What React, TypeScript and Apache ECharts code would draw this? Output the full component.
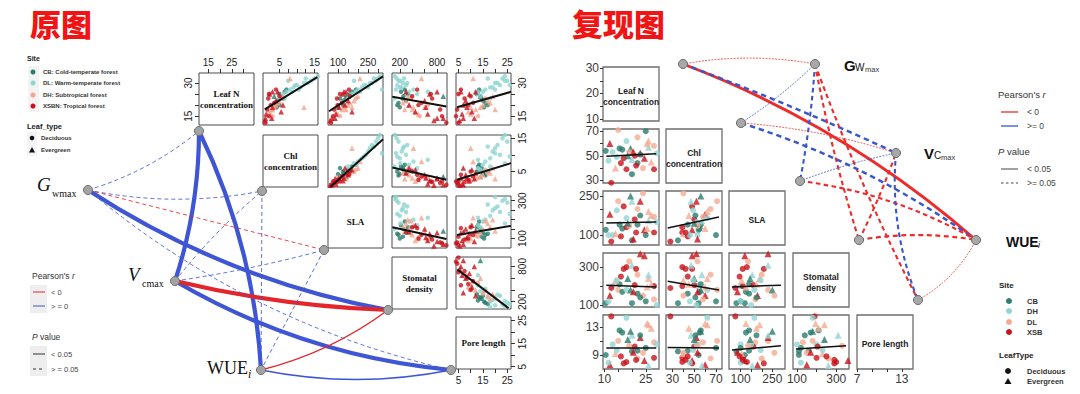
import React, { useEffect, useRef } from "react";
import * as echarts from "echarts";

// ================= LEFT PANEL (原图) : observations =================
const leftSite = [
  "CB","CB","CB","CB","CB","CB","CB","CB","CB","CB",
  "DL","DL","DL","DL","DL","DL","DL","DL","DL","DL","DL","DL","DL","DL","DL","DL","DL","DL",
  "DH","DH","DH","DH","DH","DH","DH","DH","DH","DH","DH","DH","DH","DH",
  "XSBN","XSBN","XSBN","XSBN","XSBN","XSBN","XSBN","XSBN","XSBN","XSBN",
  "XSBN","XSBN","XSBN","XSBN","XSBN","XSBN","XSBN","XSBN","XSBN","XSBN",
];
const leftType = [
  "D","D","D","D","D","D","D","E","D","D",
  "D","D","D","D","D","D","D","D","D","D","D","D","D","D","D","D","D","D",
  "E","E","E","E","E","E","E","D","E","E","D","E","E","D",
  "E","D","E","D","E","D","E","D","E","D","E","D","E","D","E","D","E","D","E","E",
];
const leftN = [
  24,22,26,21,25,23,19,24,27,20,
  30,28,32,26,29,31,27,33,25,28,30,24,29,32,26,27,31,23,
  18,20,16,22,19,17,21,23,19,32,15,24,18,20,
  26,25,22,18,14,20,16,24,13,21,26,15,19,23,17,12,25,27,14,20,
];
const leftChl = [
  5.5,4.5,6.5,3.8,5.0,6.0,4.2,3.5,7.0,5.0,
  12,9,15,7,10,14,8,16,6,11,13,5.5,9.5,12.5,8.5,10.5,7.5,6.5,
  3,4,2.5,5,3.5,2,4.5,5.5,12,8,3,6,2.8,3.2,
  3,2,4,1.5,1,2.5,1.2,5,0.8,3.5,4.5,2,3,1.8,5.5,1,2.2,4,2.8,6,
];
const leftSLA = [
  150,130,170,120,160,110,100,140,190,125,
  260,220,300,190,240,290,200,310,170,250,270,160,230,280,210,320,180,150,
  120,150,100,180,130,90,160,190,170,210,110,200,140,95,
  130,110,150,80,70,100,90,160,60,120,140,75,105,95,170,65,125,155,85,135,
];
const leftSD = [
  260,300,220,180,330,250,200,900,280,160,
  250,200,150,350,300,180,420,120,480,230,320,380,160,270,650,140,210,110,
  400,350,500,300,600,450,250,380,420,550,520,330,280,650,
  800,700,600,850,900,500,650,400,750,550,300,880,620,720,450,950,680,480,800,350,
];
const leftPL = [
  14,15,13,16,12.5,14.5,15.5,14,13.5,17,
  20,18,23,15,22,25,16,24,13,19,21,14,26,17,13,20,24,18,
  12,15,10,17,14,9,18,16,10,11,13,19,20,8,
  6,5,8,4.5,7,9,6.5,10,5.5,11,12,4,8.5,7.5,10.5,5,9.5,6,11.5,7,
];
const leftVarLabels = ["Leaf N\nconcentration", "Chl\nconcentration", "SLA", "Stomatal\ndensity", "Pore length"];
const leftRange = [[11, 34.5], [0.3, 16], [50, 325], [75, 960], [4, 26.5]];
const leftXTicks = [[15,20,25,30],[5,7.5,10,12.5,15],[100,150,200,250,300],[200,400,600,800],[5,10,15,20,25]];
const leftXLabels = [[15,25],[5,15],[100,250],[200,800],[5,15,25]];
const leftYTicks = [[15,20,25,30],[5,10,15],[100,150,200,250,300],[200,400,600,800],[5,10,15,20,25]];
const leftYLabels = [[15,30],[5,15],[100,300],[200,800],[5,15,25]];
// fitted lines (row = y variable, col = x variable)
const leftFitCell = [[0,1],[0,2],[0,3],[0,4],[1,2],[1,3],[1,4],[2,3],[2,4],[3,4]];
const leftFitX = [[0.8,15.8],[55,325],[80,950],[4.4,26.5],[62,325],[80,950],[4.4,26.5],[80,950],[4.4,26.5],[4.5,25.5]];
const leftFitY = [[18.1,32.6],[17.2,33],[23.8,19.4],[19,26],[0.3,14.7],[6.2,2.5],[2.5,7.5],[160,98],[119,167],[750,90]];
// network
const leftNodeNames = ["Leaf N","Chl","SLA","SD","PL","Gwmax","Vcmax","WUEi"];
const leftEdgeFrom = ["Leaf N","Leaf N","Gwmax","Vcmax","Vcmax","WUEi","WUEi","Gwmax","Gwmax","Gwmax","Gwmax","Vcmax","Vcmax","Chl","SLA"];
const leftEdgeTo   = ["Vcmax","WUEi","SD","PL","SD","SD","PL","Leaf N","Chl","SLA","PL","Chl","SLA","WUEi","WUEi"];
const leftEdgeR = [0.52,0.55,0.5,0.5,-0.55,-0.22,0.2,0.1,0.1,-0.1,0.08,0.1,0.08,0.1,0.1];
const leftEdgeP = [0.001,0.001,0.001,0.001,0.001,0.02,0.03,0.3,0.4,0.3,0.5,0.4,0.5,0.3,0.4];

// ================= RIGHT PANEL (复现图) : observations =================
const rightSite = ["CB","XSB","DH","DL","CB","CB","CB","DL","DL","DL","XSB","XSB","CB","XSB","XSB","XSB","CB","DL","DH","DH","XSB","DH","CB","DL","XSB","DH","DL","XSB","CB","DH","DL","XSB","CB","DL","XSB","DH"];
const rightType = ["D","E","D","D","D","D","D","D","E","D","D","D","D","D","E","D","D","E","D","D","D","E","E","D","E","E","E","D","D","D","D","E","E","E","D","D"];
const rightN = [10.5,12,13,15,15.5,16.5,25,22,26,28,12.5,18,20,28,23,21,22,14,18,29,17,20,19.5,24,24.5,26,27,16,23,11.5,19,20.5,18.5,25.5,21.5,14.5];
const rightChl = [54,60,53,71,56,55,70,65,62,58,28,39,35,39,52,50,44,40,62,52,48,47,56,40,48,57,45,44,51,46,53,53,50,60,42,49];
const rightSLA = [120,180,100,230,140,125,100,200,190,170,75,130,80,110,230,160,140,105,165,150,210,230,250,260,120,155,175,95,175,100,135,85,145,125,110,195];
const rightSD = [110,150,200,180,210,170,120,260,240,130,190,300,110,200,370,205,160,230,180,100,290,310,180,150,360,260,210,250,140,120,330,170,240,195,290,230];
const rightPL = [9,7.6,10.5,11,12.5,12.2,10,8.5,13.3,10.8,14.5,8,9.5,8.6,11.5,10.2,9.6,9.2,14.3,10.5,7.8,11.8,12.4,9.3,8.2,7.5,12.8,8.8,11.8,7.9,10.3,9.4,11.2,13.5,8.3,9.7];
const rightVarLabels = ["Leaf N\nconcentration", "Chl\nconcentration", "SLA", "Stomatal\ndensity", "Pore length"];
const rightXRange = [[9.5,29.8],[24,75.5],[45,310],[80,365],[7,14.5]];
const rightYRange = [[9.2,30.4],[27.8,71.8],[62,269],[90,374],[7,14.7]];
const rightXTicks = [[10,15,20,25],[30,40,50,60,70],[100,150,200,250],[100,200,300],[7,9,11,13]];
const rightXLabels = [[10,25],[30,50,70],[100,250],[100,300],[7,13]];
const rightYTicks = [[10,15,20,25,30],[30,40,50,60,70],[100,150,200,250],[100,200,300],[9,11,13]];
const rightYLabels = [[10,20,30],[30,50,70],[100,250],[100,300],[9,13]];
const rightFitCell = [[1,0],[2,0],[2,1],[3,0],[3,1],[3,2],[4,0],[4,1],[4,2],[4,3]];
const rightFitX = [[10.7,28.8],[10.7,28.8],[25.5,72.7],[10.7,28.8],[25.5,72.7],[59,291],[10.7,28.8],[25.5,72.7],[59,291],[95,350]];
const rightFitY = [[49.5,51.7],[146,150],[127,169],[205,195],[226,179],[195,205],[10,10],[10.05,10],[9.7,10.3],[9.85,10.3]];
const rightNodeNames = ["Leaf N","Chl","SLA","SD","PL","Gwmax","Vcmax","WUEi"];
const rightEdgeFrom = ["Leaf N","Leaf N","Leaf N","Gwmax","Gwmax","Gwmax","Gwmax","Chl","Chl","SLA","SLA","SD","SD","Vcmax","PL"];
const rightEdgeTo   = ["WUEi","Vcmax","Gwmax","Chl","SLA","SD","PL","WUEi","Vcmax","Vcmax","WUEi","WUEi","Vcmax","PL","WUEi"];
const rightEdgeR = [-0.42,0.35,-0.12,0.12,0.3,-0.3,-0.3,0.35,-0.12,0.12,-0.3,-0.32,-0.3,0.3,-0.12];
const rightEdgeP = [0.01,0.06,0.5,0.5,0.1,0.1,0.1,0.06,0.5,0.5,0.1,0.08,0.1,0.1,0.5];

// ================= layout / style (not data) =================
const LEFT_COLORS: Record<string, string> = { CB: "#2b7c6d", DL: "#8ed5d0", DH: "#f2a48d", XSBN: "#c8121c" };
const RIGHT_COLORS: Record<string, string> = { CB: "#2b7c6d", DH: "#92d5d2", DL: "#f3ab92", XSB: "#c8121c" };
const LCX = [199, 263, 328, 392, 456], LCW = 55, LRY = [73, 135, 196, 257, 317], LRH = 52;
const RCX = [603, 666, 729, 793, 857], RCW = 56, RRY = [67, 129, 191, 253, 315], RRH = 54;
const leftNodePos = [[199,131],[262,191],[324,250],[388,310],[451,370],[88,190],[175,281],[261,370]];
const rightNodePos = [[683,64],[741,123],[800,181],[859,240],[918,300],[815,64],[896,153],[976,240]];
const leftCurve = [0.08,0.1,-0.1,-0.11,-0.05,-0.1,-0.1,-0.1,-0.1,0,-0.12,0.05,-0.03,0,0];
const rightCurve = [0.09,0.02,0.09,0.05,0.03,-0.03,-0.03,0.08,0.06,0.04,0.1,0.085,-0.03,-0.12,-0.15];

const SANS = "Liberation Sans";
const SERIF = "Liberation Serif";

function buildOption() {
  const grid: any[] = [], xAxis: any[] = [], yAxis: any[] = [], series: any[] = [], graphic: any[] = [];
  const addCell = (l: number, t: number, w: number, h: number, bc: string, bw: number, xa: any, ya: any) => {
    const i = grid.length;
    grid.push({ left: l, top: t, width: w, height: h, show: true, borderColor: bc, borderWidth: bw, backgroundColor: "rgba(0,0,0,0)" });
    xAxis.push({ gridIndex: i, ...xa });
    yAxis.push({ gridIndex: i, ...ya });
    return i;
  };
  const mkAxis = (range: number[], show: boolean, position: string, ticks: number[], labels: number[], o: any) => ({
    type: "value", min: range[0], max: range[1], show, position,
    axisLine: { show: false, onZero: false }, splitLine: { show: false },
    axisTick: { show: true, length: o.tick, customValues: ticks, lineStyle: { color: "#333", width: 1 } },
    axisLabel: { show: true, customValues: labels, margin: o.margin, fontSize: o.fs, fontFamily: SANS, color: o.color, rotate: o.rotate || 0 },
  });
  const text = (x: number, y: number, t: string, font: string, fill = "#222", align = "left", extra: any = {}) =>
    graphic.push({ type: "text", x, y, z: 20, style: { text: t, font, fill, textAlign: align, textVerticalAlign: "middle", ...extra } });

  // ---------- LEFT MATRIX ----------
  const leftVars = [leftN, leftChl, leftSLA, leftSD, leftPL];
  for (let r = 0; r < 5; r++) {
    for (let c = r; c < 5; c++) {
      const showX = r === 0 || (r === 4 && c === 4);
      const showY = c === 0 || c === 4;
      const idx = addCell(LCX[c], LRY[r], LCW, LRH, "#4a4a4a", 1,
        mkAxis(leftRange[c], showX, r === 0 ? "top" : "bottom", leftXTicks[c], leftXLabels[c], { tick: 4, margin: 6, fs: 10, color: "#222" }),
        mkAxis(leftRange[r], showY, c === 0 ? "left" : "right", leftYTicks[r], leftYLabels[r], { tick: 4, margin: 6, fs: 10, color: "#222", rotate: 90 }));
      if (r === c) {
        text(LCX[c] + LCW / 2, LRY[r] + LRH / 2, leftVarLabels[r], `bold 9px "${SERIF}"`, "#111", "center", { lineHeight: 11 });
      } else {
        const data = leftSite.map((s, k) => ({
          value: [leftVars[c][k], leftVars[r][k]],
          symbol: leftType[k] === "E" ? "triangle" : "circle",
          symbolSize: leftType[k] === "E" ? 5.5 : 4.5,
          itemStyle: { color: LEFT_COLORS[s] },
        }));
        series.push({ type: "scatter", xAxisIndex: idx, yAxisIndex: idx, data, silent: true, z: 2 });
      }
    }
  }
  leftFitCell.forEach(([r, c], k) => {
    const idx = grid.findIndex((g) => g.left === LCX[c] && g.top === LRY[r]);
    series.push({ type: "line", xAxisIndex: idx, yAxisIndex: idx, data: [[leftFitX[k][0], leftFitY[k][0]], [leftFitX[k][1], leftFitY[k][1]]],
      showSymbol: false, silent: true, z: 3, lineStyle: { color: "#111", width: 2 } });
  });

  // ---------- RIGHT MATRIX ----------
  const rightVars = [rightN, rightChl, rightSLA, rightSD, rightPL];
  const rightCells: any = {};
  for (let r = 0; r < 5; r++) {
    for (let c = 0; c <= r; c++) {
      const idx = addCell(RCX[c], RRY[r], RCW, RRH, "#6e6e6e", 1.3,
        mkAxis(rightXRange[c], r === 4, "bottom", rightXTicks[c], rightXLabels[c], { tick: 3, margin: 4, fs: 12, color: "#3a3a3a" }),
        mkAxis(rightYRange[r], c === 0, "left", rightYTicks[r], rightYLabels[r], { tick: 3, margin: 4, fs: 12, color: "#3a3a3a" }));
      rightCells[r + "-" + c] = idx;
      if (r === c) {
        text(RCX[c] + RCW / 2, RRY[r] + RRH / 2 + 2, rightVarLabels[r], `bold 8.5px "${SANS}"`, "#222", "center", { lineHeight: 11 });
      } else {
        const data = rightSite.map((s, k) => ({
          value: [rightVars[c][k], rightVars[r][k]],
          symbol: rightType[k] === "E" ? "triangle" : "circle",
          symbolSize: rightType[k] === "E" ? 7 : 6,
          itemStyle: { color: RIGHT_COLORS[s] },
        }));
        series.push({ type: "scatter", xAxisIndex: idx, yAxisIndex: idx, data, silent: true, z: 2 });
      }
    }
  }
  rightFitCell.forEach(([r, c], k) => {
    const idx = rightCells[r + "-" + c];
    series.push({ type: "line", xAxisIndex: idx, yAxisIndex: idx, data: [[rightFitX[k][0], rightFitY[k][0]], [rightFitX[k][1], rightFitY[k][1]]],
      showSymbol: false, silent: true, z: 3, lineStyle: { color: "#111", width: 1.5 } });
  });

  // ---------- NETWORKS ----------
  const net = grid.length;
  grid.push({ left: 0, top: 0, width: 1080, height: 394, show: false });
  xAxis.push({ gridIndex: net, type: "value", min: 0, max: 1080, show: false });
  yAxis.push({ gridIndex: net, type: "value", min: 0, max: 394, inverse: true, show: false });
  const leftStyle = (r: number, p: number, cv: number) => {
    const sig = p < 0.05, a = Math.abs(r);
    return { color: r < 0 ? "#e3262b" : "#3f56d4", width: sig ? (a >= 0.4 ? 4.2 : 1.4) : 1, type: sig ? "solid" : [4, 3], curveness: cv, opacity: sig ? 1 : 0.85 };
  };
  const rightStyle = (r: number, p: number, cv: number) => {
    const sig = p < 0.05, w = Math.abs(r) * 7;
    return { color: r < 0 ? "#ee2a2a" : "#3857cc", width: w, type: sig ? "solid" : [w * 2.2, w * 1.6], curveness: cv, opacity: 1 };
  };
  series.push({
    type: "graph", coordinateSystem: "cartesian2d", xAxisIndex: net, yAxisIndex: net, silent: true, z: 5,
    symbol: "circle", symbolSize: 9, label: { show: false },
    itemStyle: { color: "#a3a3a3", borderColor: "#6f6f6f", borderWidth: 1 },
    data: leftNodeNames.map((n, i) => ({ name: n, value: leftNodePos[i] })),
    links: leftEdgeFrom.map((f, i) => ({ source: f, target: leftEdgeTo[i], lineStyle: leftStyle(leftEdgeR[i], leftEdgeP[i], leftCurve[i]) })),
  });
  series.push({
    type: "graph", coordinateSystem: "cartesian2d", xAxisIndex: net, yAxisIndex: net, silent: true, z: 5,
    symbol: "circle", symbolSize: 9, label: { show: false },
    itemStyle: { color: "#a8a8a8", borderColor: "#6a6a6a", borderWidth: 1 },
    data: rightNodeNames.map((n, i) => ({ name: "R" + n, value: rightNodePos[i] })),
    links: rightEdgeFrom.map((f, i) => ({ source: "R" + f, target: "R" + rightEdgeTo[i], lineStyle: rightStyle(rightEdgeR[i], rightEdgeP[i], rightCurve[i]) })),
  });

  // ---------- TEXTS / LEGENDS ----------
  text(30, 22, "原图", `900 31px "Noto Sans CJK SC"`, "#f01414");
  text(572, 22, "复现图", `900 31px "Noto Sans CJK SC"`, "#f01414");

  // left site legend
  text(27, 58, "Site", `bold 7px "${SANS}"`, "#222");
  graphic.push({ type: "rect", shape: { x: 28, y: 66, width: 11, height: 46 }, style: { fill: "#f3f3f3" }, z: 1 });
  const lsites = [["CB", "CB: Cold-temperate forest"], ["DL", "DL: Warm-temperate forest"], ["DH", "DH: Subtropical forest"], ["XSBN", "XSBN: Tropical forest"]];
  lsites.forEach(([k, t], i) => {
    const y = [72, 83, 95, 106][i];
    graphic.push({ type: "circle", shape: { cx: 33, cy: y, r: 2.5 }, style: { fill: LEFT_COLORS[k] }, z: 20 });
    text(43, y, t, `bold 6px "${SANS}"`, "#333");
  });
  text(27, 126, "Leaf_type", `bold 7.5px "${SANS}"`, "#222");
  graphic.push({ type: "rect", shape: { x: 27, y: 132, width: 10, height: 24 }, style: { fill: "#f3f3f3" }, z: 1 });
  graphic.push({ type: "circle", shape: { cx: 32, cy: 138, r: 2.3 }, style: { fill: "#111" }, z: 20 });
  graphic.push({ type: "polygon", shape: { points: [[32, 147], [35, 152.5], [29, 152.5]] }, style: { fill: "#111" }, z: 20 });
  text(41, 138, "Deciduous", `bold 6px "${SANS}"`, "#333");
  text(41, 150, "Evergreen", `bold 6px "${SANS}"`, "#333");

  // left pearson legend
  graphic.push({ type: "text", x: 32, y: 276, z: 20, style: { text: "{a|Pearson's }{b|r}", textVerticalAlign: "middle",
    rich: { a: { fontSize: 8.5, fontFamily: SANS, fill: "#333" }, b: { fontSize: 8.5, fontFamily: SANS, fontStyle: "italic", fill: "#333" } } } });
  graphic.push({ type: "rect", shape: { x: 30, y: 285, width: 17, height: 28 }, style: { fill: "#eeeeee" }, z: 1 });
  graphic.push({ type: "line", shape: { x1: 33, y1: 292, x2: 45, y2: 292 }, style: { stroke: "#e3262b", lineWidth: 1 }, z: 20 });
  graphic.push({ type: "line", shape: { x1: 33, y1: 306, x2: 45, y2: 306 }, style: { stroke: "#3f56d4", lineWidth: 1 }, z: 20 });
  text(51, 292, "< 0", `7.5px "${SANS}"`, "#444");
  text(51, 306, "> = 0", `7.5px "${SANS}"`, "#444");
  graphic.push({ type: "text", x: 32, y: 337, z: 20, style: { text: "{b|P}{a| value}", textVerticalAlign: "middle",
    rich: { a: { fontSize: 8.5, fontFamily: SANS, fill: "#333" }, b: { fontSize: 8.5, fontFamily: SANS, fontStyle: "italic", fill: "#333" } } } });
  graphic.push({ type: "rect", shape: { x: 30, y: 346, width: 17, height: 30 }, style: { fill: "#eeeeee" }, z: 1 });
  graphic.push({ type: "line", shape: { x1: 33, y1: 354, x2: 45, y2: 354 }, style: { stroke: "#333", lineWidth: 1 }, z: 20 });
  graphic.push({ type: "line", shape: { x1: 33, y1: 369, x2: 45, y2: 369 }, style: { stroke: "#333", lineWidth: 1, lineDash: [3, 3] }, z: 20 });
  text(51, 354, "< 0.05", `7.5px "${SANS}"`, "#444");
  text(51, 369, "> = 0.05", `7.5px "${SANS}"`, "#444");

  // left node labels
  text(37, 184, "G", `italic 19px "${SERIF}"`, "#111");
  text(52, 193, "wmax", `10px "${SERIF}"`, "#111");
  text(128, 274, "V", `italic 19px "${SERIF}"`, "#111");
  text(142, 283, "cmax", `10px "${SERIF}"`, "#111");
  text(207, 368, "WUE", `18px "${SERIF}"`, "#111");
  text(248, 374, "i", `italic 12px "${SERIF}"`, "#111");

  // right node labels
  text(844, 65, "G", `bold 15px "${SANS}"`, "#111");
  text(855, 67, "W", `10px "${SANS}"`, "#111");
  text(865, 69, "max", `7.5px "${SANS}"`, "#333");
  text(924, 153, "V", `bold 15px "${SANS}"`, "#111");
  text(934, 155, "C", `10px "${SANS}"`, "#111");
  text(941, 157, "max", `7.5px "${SANS}"`, "#333");
  text(1006, 242, "WUE", `bold 14px "${SANS}"`, "#111");
  text(1038, 245, "i", `italic 9px "${SANS}"`, "#111");

  // right pearson legend
  graphic.push({ type: "text", x: 998, y: 94, z: 20, style: { text: "{a|Pearson's }{b|r}", textVerticalAlign: "middle",
    rich: { a: { fontSize: 9.5, fontFamily: SANS, fill: "#333" }, b: { fontSize: 9.5, fontFamily: SANS, fontStyle: "italic", fill: "#333" } } } });
  graphic.push({ type: "line", shape: { x1: 1001, y1: 112, x2: 1018, y2: 112 }, style: { stroke: "#ee2a2a", lineWidth: 1.3 }, z: 20 });
  graphic.push({ type: "line", shape: { x1: 1001, y1: 126, x2: 1018, y2: 126 }, style: { stroke: "#3857cc", lineWidth: 1.3 }, z: 20 });
  text(1027, 112, "< 0", `8.5px "${SANS}"`, "#444");
  text(1027, 126, ">= 0", `8.5px "${SANS}"`, "#444");
  graphic.push({ type: "text", x: 998, y: 151, z: 20, style: { text: "{b|P}{a| value}", textVerticalAlign: "middle",
    rich: { a: { fontSize: 9.5, fontFamily: SANS, fill: "#333" }, b: { fontSize: 9.5, fontFamily: SANS, fontStyle: "italic", fill: "#333" } } } });
  graphic.push({ type: "line", shape: { x1: 1001, y1: 169, x2: 1018, y2: 169 }, style: { stroke: "#444", lineWidth: 1 }, z: 20 });
  graphic.push({ type: "line", shape: { x1: 1001, y1: 183, x2: 1018, y2: 183 }, style: { stroke: "#444", lineWidth: 1, lineDash: [2.5, 2.5] }, z: 20 });
  text(1027, 169, "< 0.05", `8.5px "${SANS}"`, "#444");
  text(1027, 183, ">= 0.05", `8.5px "${SANS}"`, "#444");

  // right site legend
  text(999, 285, "Site", `bold 8px "${SANS}"`, "#222");
  [["CB", 301], ["DH", 311], ["DL", 322], ["XSB", 332]].forEach(([k, y]: any) => {
    graphic.push({ type: "circle", shape: { cx: 1009, cy: y, r: 3 }, style: { fill: RIGHT_COLORS[k] }, z: 20 });
    text(1027, y, k, `bold 7.5px "${SANS}"`, "#333");
  });
  text(999, 355, "LeafType", `bold 8px "${SANS}"`, "#222");
  graphic.push({ type: "circle", shape: { cx: 1008, cy: 371, r: 3 }, style: { fill: "#111" }, z: 20 });
  graphic.push({ type: "polygon", shape: { points: [[1008, 378], [1011.5, 384], [1004.5, 384]] }, style: { fill: "#111" }, z: 20 });
  text(1027, 371, "Deciduous", `bold 7.5px "${SANS}"`, "#333");
  text(1027, 381, "Evergreen", `bold 7.5px "${SANS}"`, "#333");

  return { animation: false, backgroundColor: "#ffffff", grid, xAxis, yAxis, series, graphic: { elements: graphic } };
}

export default function App() {
  const ref = useRef<HTMLDivElement>(null);
  useEffect(() => {
    document.body.style.margin = "0";
    const chart = echarts.init(ref.current!, undefined, { renderer: "svg" });
    chart.setOption(buildOption() as any);
    return () => chart.dispose();
  }, []);
  return <div ref={ref} style={{ position: "absolute", left: 0, top: 0, width: 1080, height: 394, background: "#fff" }} />;
}
